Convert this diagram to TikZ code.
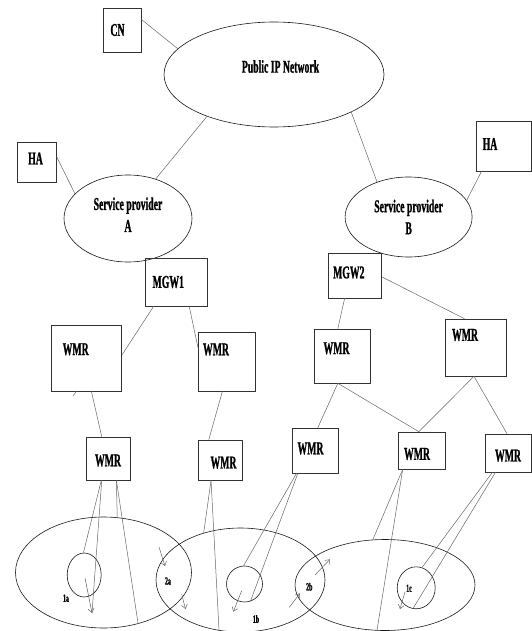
\documentclass[tikz,border=0pt]{standalone}
\usepackage{fontspec}
\newfontfamily\diagfont{Liberation Serif}[FakeStretch=0.54,FakeBold=1]
\usetikzlibrary{shapes.geometric,arrows.meta}

\tikzset{
  box/.style={draw=black!80, line width=0.6pt, inner sep=0pt},
  blob/.style={ellipse, draw=black!90, line width=0.6pt, inner sep=0pt},
  word/.style={font=\diagfont\bfseries\fontsize{18}{22}\selectfont, inner sep=0pt, align=center},
  tag/.style={font=\diagfont\bfseries\fontsize{11}{12}\selectfont, inner sep=0pt},
  link/.style={draw=black!60, line width=0.5pt},
  hop/.style={link, -{Straight Barb[length=4pt,width=6pt]}},
}

\begin{document}
\begin{tikzpicture}[x=1pt,y=-1pt]
  \useasboundingbox (0,0) rectangle (532,631);

  % core network and providers
  \node[box, minimum width=38, minimum height=44, label={[word,xshift=-5pt]center:CN}] (cn) at (122.5,30) {};
  \node[blob, minimum width=220, minimum height=105, label={[word,xshift=6.5pt,yshift=8pt]center:Public IP Network}] (net) at (274,74.5) {};
  \node[box, minimum width=39, minimum height=40, label={[word,xshift=-1.5pt,yshift=3.5pt]center:HA}] (haA) at (37,162) {};
  \node[blob, minimum width=128, minimum height=87, label={[word,yshift=3.8pt]center:Service provider\\A}] (spA) at (128,218.5) {};
  \node[box, minimum width=55, minimum height=50, label={[word,xshift=-13.5pt,yshift=2pt]center:HA}] (haB) at (503.5,146) {};
  \node[blob, minimum width=127, minimum height=80, label={[word]center:Service provider\\B}] (spB) at (408.6,217) {};

  % gateways and mesh routers
  \node[box, minimum width=62.6, minimum height=48, label={[word,xshift=-8pt]center:MGW1}] (mgw1) at (176.3,282) {};
  \node[box, minimum width=53.6, minimum height=45, label={[word,xshift=-6pt,yshift=3pt]center:MGW2}] (mgw2) at (354.8,275.5) {};
  \node[box, minimum width=70, minimum height=66, label={[word,xshift=-11pt,yshift=8.7pt]center:WMR}] (wmrA) at (86.7,358) {};
  \node[box, minimum width=56.7, minimum height=59, label={[word,xshift=-10.6pt,yshift=12pt]center:WMR}] (wmrB) at (226.6,361.5) {};
  \node[box, minimum width=56.5, minimum height=54, label={[word,xshift=-5.7pt,yshift=7.7pt]center:WMR}] (wmrC) at (342.2,356) {};
  \node[box, minimum width=61, minimum height=57, label={[word,xshift=-10.5pt,yshift=12.5pt]center:WMR}] (wmrD) at (475.5,347.5) {};
  \node[box, minimum width=44, minimum height=43, label={[word,yshift=-2pt]center:WMR}] (wmrE) at (108,458.5) {};
  \node[box, minimum width=43.7, minimum height=40, label={[word,xshift=3pt,yshift=-2.7pt]center:WMR}] (wmrF) at (220.5,460) {};
  \node[box, minimum width=46, minimum height=45, label={[word,xshift=-4.5pt,yshift=2pt]center:WMR}] (wmrG) at (315,450.5) {};
  \node[box, minimum width=47, minimum height=37, label={[word,xshift=-4.5pt,yshift=-3.5pt]center:WMR}] (wmrH) at (421.5,450.5) {};
  \node[box, minimum width=46, minimum height=38, label={[word,yshift=-2.7pt]center:WMR}] (wmrI) at (508,453) {};

  % cells and terminals
  \node[blob, minimum width=176, minimum height=111] (cellA) at (103.5,572.5) {};
  \node[blob, minimum width=169, minimum height=104] (cellB) at (240.5,580) {};
  \node[blob, minimum width=180, minimum height=91] (cellC) at (385,585) {};
  \node[blob, minimum width=34, minimum height=44] (c1a) at (84.2,575) {};
  \node[blob, minimum width=36, minimum height=36] (c1b) at (244.5,584) {};
  \node[blob, minimum width=38, minimum height=42] (c1c) at (416.2,587.8) {};

  \node[tag] (lab1a) at (66,598.3) {1a};
  \node[tag] (lab2a) at (168,581) {2a};
  \node[tag] (lab1b) at (256,619) {1b};
  \node[tag] (lab2b) at (309.3,586.7) {2b};
  \node[tag] (lab1c) at (409,588.3) {1c};

  \coordinate (stub) at (73,396);
  \coordinate (tip1a) at (92,613);

  % links
  \draw[link] (cn.28) -- (net.165);
  \draw[link] (net.212) -- (spA.55);
  \draw[link] (net.334) -- (spB.132);
  \draw[link] (haA.14) -- (spA.155);
  \draw[link] (haB.229) -- (spB.16);
  \draw[link] (mgw1.227) -- (wmrA.5);
  \draw[link] (mgw1.298) -- (wmrB.154);
  \draw[link] (mgw2.246) -- (wmrC.99);
  \draw[link] (mgw2.357) -- (wmrD.111);
  \draw[link] (wmrA.278) -- (wmrE.106);
  \draw[link] (wmrA.253) -- (stub);
  \draw[link] (wmrB.262) -- (wmrF.120);
  \draw[link] (wmrC.261) -- (wmrG.83);
  \draw[link] (wmrC.261) -- (wmrH.98);
  \draw[link] (wmrD.267) -- (wmrH.98);
  \draw[link] (wmrD.267) -- (wmrI.93);
  \draw[link] (wmrE.253) -- (c1a.92);
  \draw[link] (wmrE.254) -- (tip1a);
  \draw[link] (wmrE.291) -- (cellA.76);
  \draw[link] (wmrE.291) -- (cellA.304);
  \draw[link] (wmrF.245) -- (cellB.128);
  \draw[link] (wmrF.245) -- (cellB.247);
  \draw[link] (wmrG.231) -- (c1b.93);
  \draw[link] (wmrG.233) -- (c1b.289);
  \draw[link] (wmrH.225) -- (cellC.105);
  \draw[link] (wmrH.225) -- (cellC.260);
  \draw[link] (wmrI.231) -- (c1c.74);
  \draw[link] (wmrI.237) -- (c1c.261);

  % movement marks
  \draw[hop] (85,578) -- (tip1a);
  \draw[hop] (159,547) -- (165,566);
  \draw[hop] (181.7,594.3) -- (185.5,609);
  \draw[hop] (241.7,590.7) -- (233.3,611.7);
  \draw[hop] (315,575) -- (330,559.3);
  \draw[hop] (289.3,607.3) -- (300,593.3);
  \draw[hop] (405,592) -- (400,609);
\end{tikzpicture}
\end{document}
